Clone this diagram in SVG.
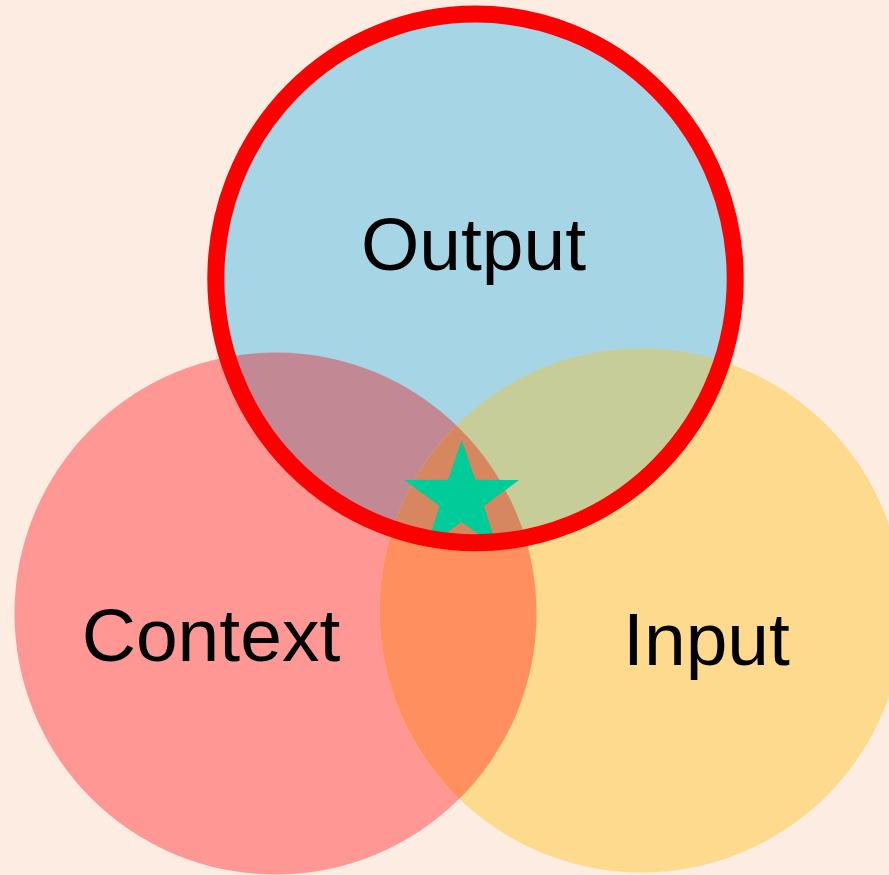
<svg xmlns="http://www.w3.org/2000/svg" width="889" height="875" viewBox="0 0 889 875">
  <style>
    .label { font-family: "Liberation Sans", Arial, sans-serif; font-size: 75px; fill: #000000; }
  </style>
  <defs>
    <clipPath id="clip-context"><circle cx="275.5" cy="613.5" r="261"/></clipPath>
    <clipPath id="clip-input"><circle cx="641.5" cy="610.5" r="262"/></clipPath>
    <clipPath id="clip-output"><ellipse cx="475.5" cy="278.4" rx="259.7" ry="264.3"/></clipPath>
  </defs>

  <!-- background -->
  <rect x="0" y="0" width="889" height="875" fill="#FDECE2"/>

  <!-- base sets -->
  <g id="context">
    <circle cx="275.5" cy="613.5" r="261" fill="#FF9894"/>
  </g>
  <g id="input">
    <circle cx="641.5" cy="610.5" r="262" fill="#FEDA8F"/>
  </g>
  <g id="output">
    <ellipse cx="475.5" cy="278.4" rx="259.7" ry="264.3" fill="#A6D6E5"/>
  </g>

  <!-- overlaps -->
  <g id="overlaps">
    <g clip-path="url(#clip-context)">
      <circle cx="641.5" cy="610.5" r="262" fill="#FF8F5E"/>
    </g>
    <g clip-path="url(#clip-output)">
      <circle cx="275.5" cy="613.5" r="261" fill="#C28893"/>
      <circle cx="641.5" cy="610.5" r="262" fill="#C7CD98"/>
      <g clip-path="url(#clip-context)">
        <circle cx="641.5" cy="610.5" r="262" fill="#D6875F"/>
      </g>
    </g>
  </g>

  <!-- marker at the triple overlap -->
  <g id="star">
    <polygon fill="#00CC99" points="461.7,440 475.3,479.8 519,480 483.9,506 497.1,547.5 461.7,522 426.3,547.5 439.5,506 404.4,480 448.1,479.8"/>
  </g>

  <!-- highlighted outline of the output set -->
  <g id="output-outline">
    <ellipse cx="475.5" cy="278.4" rx="259.7" ry="264.3" fill="none" stroke="#FF0000" stroke-width="17"/>
  </g>

  <g id="labels">
    <text class="label" x="473.5" y="270" text-anchor="middle">Output</text>
    <text class="label" x="211" y="661" text-anchor="middle">Context</text>
    <text class="label" x="706.5" y="665" text-anchor="middle">Input</text>
  </g>
</svg>
